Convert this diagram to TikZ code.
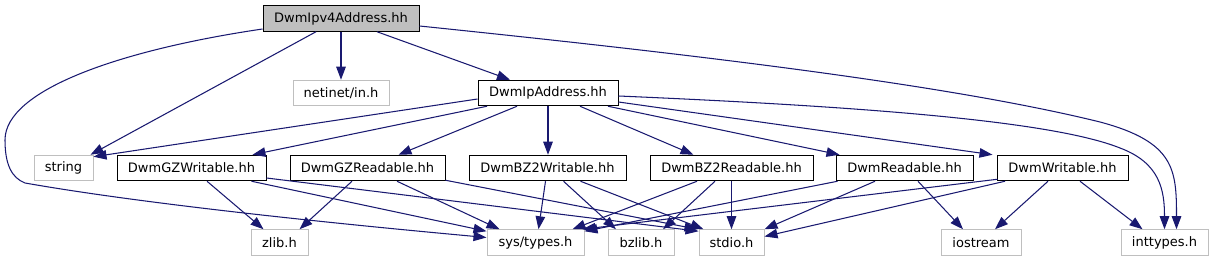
\documentclass[tikz,border=0pt]{standalone}
\usepackage{fontspec}
\newfontfamily\dejavu{DejaVu Sans}
\usetikzlibrary{arrows.meta,calc}
\definecolor{edgeblue}{HTML}{191970}
\definecolor{sysgray}{HTML}{BFBFBF}
\begin{document}
\begin{tikzpicture}[x=1pt,y=-1pt,
  box/.style={draw=black, line width=1pt, minimum height=25.5pt, inner sep=0pt, font=\dejavu\fontsize{13}{15}\selectfont, text=black},
  sysbox/.style={box, draw=sysgray},
  edge/.style={draw=edgeblue, line width=1.05pt, -{Triangle[length=13pt,width=9.5pt]}}]
\useasboundingbox (0,0) rectangle (1214,261);
% nodes
\node[box, fill=sysgray, minimum width=156pt] (ipv4) at (341,18.5) {DwmIpv4Address.hh};
\node[sysbox, minimum width=96pt] (netinet) at (341,93) {netinet/in.h};
\node[box, minimum width=140pt] (ipaddr) at (548,93) {DwmIpAddress.hh};
\node[sysbox, minimum width=59pt] (string) at (63.5,168) {string};
\node[box, minimum width=149pt] (gzw) at (191.5,168) {DwmGZWritable.hh};
\node[box, minimum width=155pt] (gzr) at (367.5,168) {DwmGZReadable.hh};
\node[box, minimum width=157pt] (bz2w) at (547.5,168) {DwmBZ2Writable.hh};
\node[box, minimum width=163pt] (bz2r) at (731.5,168) {DwmBZ2Readable.hh};
\node[box, minimum width=137pt] (rd) at (904.5,168) {DwmReadable.hh};
\node[box, minimum width=131pt] (wr) at (1062.5,168) {DwmWritable.hh};
\node[sysbox, minimum width=57pt] (zlib) at (279.5,242.5) {zlib.h};
\node[sysbox, minimum width=97pt] (systypes) at (535.5,242.5) {sys/types.h};
\node[sysbox, minimum width=66pt] (bzlib) at (641,242.5) {bzlib.h};
\node[sysbox, minimum width=65pt] (stdio) at (731.5,242.5) {stdio.h};
\node[sysbox, minimum width=80pt] (iostream) at (981,242.5) {iostream};
\node[sysbox, minimum width=87pt] (inttypes) at (1164.5,242.5) {inttypes.h};
% edges from DwmIpv4Address.hh
\draw[edge] (ipv4.south) -- (netinet.north);
\draw[edge] ($(ipv4.south)+(36,0)$) -- ($(ipaddr.north)+(-38,0)$);
\draw[edge] ($(ipv4.south)+(-25,0)$) -- ($(string.north east)+(-3,0)$);
\draw[edge] ($(ipv4.west)+(0,10.5)$) .. controls (120,50) and (5,90) .. (5,140)
  .. controls (5,165) and (12,178) .. (25,183)
  .. controls (150,205) and (350,225) .. ($(systypes.west)+(0,-5)$);
\draw[edge] ($(ipv4.east)+(0,7.5)$) .. controls (700,55) and (950,85) .. (1100,122)
  .. controls (1175,142) and (1176.5,170) .. ($(inttypes.north)+(12,0)$);
% edges from DwmIpAddress.hh
\draw[edge] ($(ipaddr.west)+(0,6)$) -- ($(string.north east)+(0,2)$);
\draw[edge] ($(ipaddr.south)+(-61,0)$) -- ($(gzw.north)+(61,0)$);
\draw[edge] ($(ipaddr.south)+(-31,0)$) -- ($(gzr.north)+(31,0)$);
\draw[edge] (ipaddr.south) -- (ipaddr.south |- bz2w.north);
\draw[edge] ($(ipaddr.south)+(32,0)$) -- ($(bz2r.north)+(-38,0)$);
\draw[edge] ($(ipaddr.south)+(60,0)$) -- ($(rd.north)+(-65,0)$);
\draw[edge] ($(ipaddr.east)+(0,9)$) -- ($(wr.north)+(-70,0)$);
\draw[edge] ($(ipaddr.east)+(0,3)$) .. controls (850,106) and (1050,120) .. (1120,148)
  .. controls (1160,163) and (1164.5,190) .. (inttypes.north);
% DwmGZWritable.hh
\draw[edge] ($(gzw.south)+(15.5,0)$) -- ($(zlib.north)+(-16,0)$);
\draw[edge] ($(gzw.south)+(60,0)$) -- ($(systypes.north west)+(0,2)$);
\draw[edge] ($(gzw.east)+(0,10)$) -- ($(stdio.north west)+(0,2)$);
% DwmGZReadable.hh
\draw[edge] ($(gzr.south)+(-15.5,0)$) -- ($(zlib.north)+(20,0)$);
\draw[edge] ($(gzr.south)+(29.5,0)$) -- ($(systypes.north)+(-36,0)$);
\draw[edge] ($(gzr.south east)+(0,-1)$) -- ($(stdio.north west)+(-1,0)$);
% DwmBZ2Writable.hh
\draw[edge] ($(bz2w.south)+(-2,0)$) -- ($(systypes.north)+(3,0)$);
\draw[edge] ($(bz2w.south)+(16,0)$) -- ($(bzlib.north)+(-25,0)$);
\draw[edge] ($(bz2w.south)+(33,0)$) -- ($(stdio.north)+(-28,0)$);
% DwmBZ2Readable.hh
\draw[edge] ($(bz2r.south)+(-34.5,0)$) -- ($(systypes.north)+(37,0)$);
\draw[edge] ($(bz2r.south)+(-16.5,0)$) -- ($(bzlib.north)+(22,0)$);
\draw[edge] (bz2r.south) -- (stdio.north);
% DwmReadable.hh
\draw[edge] ($(rd.south west)+(2,0)$) -- ($(systypes.north east)+(0,2)$);
\draw[edge] ($(rd.south)+(-29.5,0)$) -- (stdio.north east);
\draw[edge] ($(rd.south)+(13.5,0)$) -- ($(iostream.north)+(-18,0)$);
% DwmWritable.hh
\draw[edge] ($(wr.south west)+(1,-2)$) -- ($(systypes.north east)+(-2,0)$);
\draw[edge] ($(wr.south)+(-57.5,0)$) -- ($(stdio.east)+(0,-6)$);
\draw[edge] ($(wr.south)+(-14.5,0)$) -- ($(iostream.north)+(14,0)$);
\draw[edge] ($(wr.south)+(17.5,0)$) -- ($(inttypes.north)+(-22,0)$);
\end{tikzpicture}
\end{document}
